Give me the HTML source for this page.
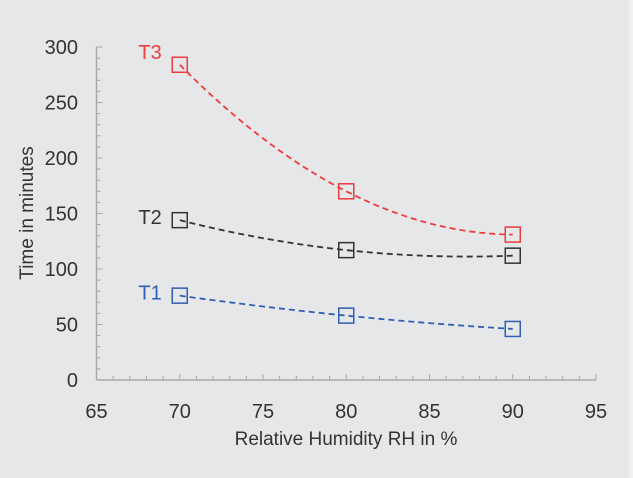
<!DOCTYPE html>
<html><head><meta charset="utf-8"><style>
html,body{margin:0;padding:0;background:#e6e7e9;}
svg{display:block;font-family:"Liberation Sans",Arial,sans-serif;}
</style></head><body>
<svg id="chart" width="633" height="478" viewBox="0 0 633 478" xmlns="http://www.w3.org/2000/svg">
<rect x="0" y="0" width="633" height="478" fill="#e6e7e9"/>
<rect x="629" y="0" width="4" height="478" fill="#f1f1f2"/>
<g id="axes"></g>
<g id="series"></g>
<text x="346" y="445" font-size="19" fill="#333" text-anchor="middle">Relative Humidity RH in %</text>
<text transform="translate(33,213) rotate(-90)" font-size="19" fill="#333" text-anchor="middle">Time in minutes</text>
</svg>
<script>
const xValues = [70, 80, 90];
const seriesNames = ["T1", "T2", "T3"];
const t1Values = [76, 58, 46];
const t2Values = [144, 117, 112];
const t3Values = [284, 170, 131];
const xTicks = [65, 70, 75, 80, 85, 90, 95];
const yTicks = [0, 50, 100, 150, 200, 250, 300];

const X0 = 96.5, X1 = 596, Y0 = 380, Y1 = 47;
function xs(v){ return X0 + (v - 65) / 30 * (X1 - X0); }
function ys(v){ return Y0 - v / 300 * (Y0 - Y1); }
const NS = "http://www.w3.org/2000/svg";
function mk(tag, attrs, parent){
  const e = document.createElementNS(NS, tag);
  for (const k in attrs) e.setAttribute(k, attrs[k]);
  parent.appendChild(e);
  return e;
}
const axes = document.getElementById('axes');
const ax = "#a8a8a8";
const yl = mk('line', {x1:xs(65), y1:ys(0), x2:xs(65), y2:ys(300), stroke:ax, 'stroke-width':1.4}, axes);


const xl = mk('line', {x1:xs(65), y1:ys(0), x2:xs(95), y2:ys(0), stroke:ax, 'stroke-width':1.4}, axes);


for (let v = 66; v <= 95; v++) {
  const major = v % 5 === 0;
  const t = mk('line', {x1:xs(v), y1:ys(0), x2:xs(v), y2:ys(0) - (major ? 6 : 4), stroke:ax, 'stroke-width':1}, axes);
  
  
}
for (let v = 10; v <= 300; v += 10) {
  const major = v % 50 === 0;
  const t = mk('line', {x1:xs(65), y1:ys(v), x2:xs(65) + (major ? 6 : 4), y2:ys(v), stroke:ax, 'stroke-width':1}, axes);
  
  
}
xTicks.forEach(v => {
  const t = mk('text', {x:xs(v), y:418, 'font-size':20, fill:'#333', 'text-anchor':'middle'}, axes);
  t.textContent = v;
  
  
});
yTicks.forEach(v => {
  const t = mk('text', {x:78, y:ys(v) + 7, 'font-size':20, fill:'#333', 'text-anchor':'end'}, axes);
  t.textContent = v;
  
  
});

const seriesData = [t1Values, t2Values, t3Values];
const colors = ["#2f5fb3", "#333333", "#ee3b3b"];
const sg = document.getElementById('series');
function quad(vals, x){
  const [a,b,c] = xValues;
  return vals[0]*(x-b)*(x-c)/((a-b)*(a-c)) + vals[1]*(x-a)*(x-c)/((b-a)*(b-c)) + vals[2]*(x-a)*(x-b)/((c-a)*(c-b));
}
seriesData.forEach((vals, i) => {
  const g = mk('g', {}, sg);
  
  
  let d = "";
  for (let k = 0; k <= 40; k++) {
    const x = xValues[0] + (xValues[2] - xValues[0]) * k / 40;
    d += (k ? "L" : "M") + xs(x).toFixed(2) + "," + ys(quad(vals, x)).toFixed(2);
  }
  const p = mk('path', {d:d, fill:'none', stroke:colors[i], 'stroke-width':1.8, 'stroke-dasharray':'6,4'}, g);
  
  
  vals.forEach((v, j) => {
    const r = mk('rect', {x:xs(xValues[j]) - 7.5, y:ys(v) - 7.5, width:15, height:15, fill:'none', stroke:colors[i], 'stroke-width':1.5}, g);
    
    
  });
  const lab = mk('text', {x:xs(xValues[0]) - 18, y:ys(vals[0]) + 4 - (i === 2 ? 10 : 0), 'font-size':20, fill:colors[i], 'text-anchor':'end'}, g);
  lab.textContent = seriesNames[i];
  
  
});
</script>
</body></html>
